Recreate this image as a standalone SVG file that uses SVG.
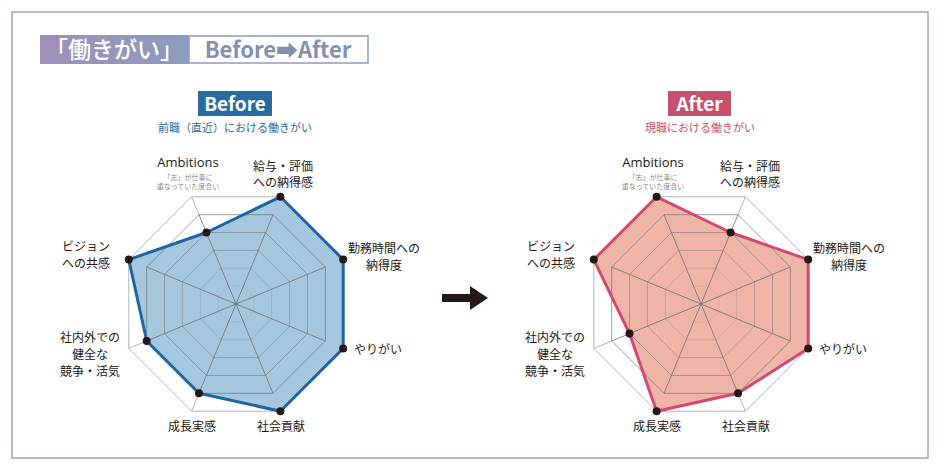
<svg xmlns="http://www.w3.org/2000/svg" xmlns:xlink="http://www.w3.org/1999/xlink" width="940" height="470" viewBox="0 0 940 470">
<defs>
<linearGradient id="tg" x1="0" x2="1"><stop offset="0" stop-color="#9e8fb9"/><stop offset="1" stop-color="#8c9cbe"/></linearGradient>
<polygon id="oct" points="-44.4,-107.2 44.4,-107.2 107.2,-44.4 107.2,44.4 44.4,107.2 -44.4,107.2 -107.2,44.4 -107.2,-44.4"/>
<g id="grid">
<use xlink:href="#oct" class="ring" transform="scale(0.1667)"/>
<use xlink:href="#oct" class="ring" transform="scale(0.3333)"/>
<use xlink:href="#oct" class="ring" transform="scale(0.5)"/>
<use xlink:href="#oct" class="ring" transform="scale(0.6667)"/>
<use xlink:href="#oct" class="ring" transform="scale(0.8333)"/>
<path class="spk" d="M0,0L-37,-89.3M0,0L37,-89.3M0,0L89.3,-37M0,0L89.3,37M0,0L37,89.3M0,0L-37,89.3M0,0L-89.3,37M0,0L-89.3,-37"/>
</g>
<g id="outer">
<use xlink:href="#oct" class="oring"/>
<path class="ospk" d="M-37,-89.3L-44.4,-107.2M37,-89.3L44.4,-107.2M89.3,-37L107.2,-44.4M89.3,37L107.2,44.4M37,89.3L44.4,107.2M-37,89.3L-44.4,107.2M-89.3,37L-107.2,44.4M-89.3,-37L-107.2,-44.4"/>
</g>
</defs>
<style>
text{font-family:"Noto Sans CJK JP","Noto Sans",sans-serif;}
.ring{fill:none;stroke:#6f7070;stroke-width:0.8;vector-effect:non-scaling-stroke;}
.spk{stroke:#6f7070;stroke-width:0.8;fill:none;}
.oring{fill:none;stroke:#b4b4b4;stroke-width:1;}
.ospk{stroke:#b4b4b4;stroke-width:1;}
.lb{font-size:12px;fill:#231815;text-anchor:middle;}
.sm{font-size:7px;fill:#8a8a8a;text-anchor:middle;}
.amb{font-size:13px;fill:#231815;text-anchor:middle;font-family:"Open Sans","Noto Sans",sans-serif;}
.dot{fill:#231815;}
</style>
<rect x="12" y="12" width="916" height="446" fill="#fff" stroke="#9aa3bd" stroke-width="1.5"/>
<g id="title">
<rect x="40" y="35" width="149" height="29" fill="url(#tg)"/>
<text x="114" y="58" font-size="23" fill="#fff" text-anchor="middle" font-weight="500">「働きがい」</text>
<rect x="189" y="36" width="179" height="27" fill="#fff" stroke="#8c9cbe" stroke-width="1.5"/>
<text x="278" y="58" font-size="22" fill="#8090b2" text-anchor="middle" font-weight="600" font-family="Open Sans, sans-serif">Before➡After</text>
</g>
<g id="before-head">
<rect x="198" y="91" width="74" height="25" fill="#2a6aa3"/>
<text x="235" y="111" font-size="19" fill="#fff" text-anchor="middle" font-weight="bold" font-family="Open Sans, sans-serif">Before</text>
<text x="235" y="132" font-size="11" fill="#2a6aa3" text-anchor="middle">前職（直近）における働きがい</text>
</g>
<g id="after-head">
<rect x="668" y="91" width="63" height="25" fill="#c8506f"/>
<text x="699.5" y="111" font-size="19" fill="#fff" text-anchor="middle" font-weight="bold" font-family="Open Sans, sans-serif">After</text>
<text x="700" y="132" font-size="11" fill="#c8506f" text-anchor="middle">現職における働きがい</text>
</g>
<g id="before-chart" transform="translate(236,304)">
<use xlink:href="#outer"/>
<polygon points="-29.6,-71.5 44.4,-107.2 107.2,-44.4 107.2,44.4 44.4,107.2 -37,89.3 -89.3,37 -107.2,-44.4" fill="#a5c8de"/>
<use xlink:href="#grid"/>
<polygon points="-29.6,-71.5 44.4,-107.2 107.2,-44.4 107.2,44.4 44.4,107.2 -37,89.3 -89.3,37 -107.2,-44.4" fill="none" stroke="#1d64a6" stroke-width="3" stroke-linejoin="round"/>
<g class="dot"><circle cx="-29.6" cy="-71.5" r="4"/><circle cx="44.4" cy="-107.2" r="4"/><circle cx="107.2" cy="-44.4" r="4"/><circle cx="107.2" cy="44.4" r="4"/><circle cx="44.4" cy="107.2" r="4"/><circle cx="-37" cy="89.3" r="4"/><circle cx="-89.3" cy="37" r="4"/><circle cx="-107.2" cy="-44.4" r="4"/></g>
</g>
<g id="after-chart" transform="translate(701,304)">
<use xlink:href="#outer"/>
<polygon points="-44.4,-107.2 29.6,-71.5 107.2,-44.4 107.2,44.4 37,89.3 -44.4,107.2 -71.5,29.6 -107.2,-44.4" fill="#efb6a8"/>
<use xlink:href="#grid"/>
<polygon points="-44.4,-107.2 29.6,-71.5 107.2,-44.4 107.2,44.4 37,89.3 -44.4,107.2 -71.5,29.6 -107.2,-44.4" fill="none" stroke="#d6476f" stroke-width="3" stroke-linejoin="round"/>
<g class="dot"><circle cx="-44.4" cy="-107.2" r="4"/><circle cx="29.6" cy="-71.5" r="4"/><circle cx="107.2" cy="-44.4" r="4"/><circle cx="107.2" cy="44.4" r="4"/><circle cx="37" cy="89.3" r="4"/><circle cx="-44.4" cy="107.2" r="4"/><circle cx="-71.5" cy="29.6" r="4"/><circle cx="-107.2" cy="-44.4" r="4"/></g>
</g>
<g id="before-labels">
<text class="amb" x="188" y="167">Ambitions</text>
<text class="sm" x="188" y="180">「志」が仕事に</text>
<text class="sm" x="188" y="189">重なっていた度合い</text>
<text class="lb" x="283" y="171">給与・評価</text>
<text class="lb" x="283" y="187">への納得感</text>
<text class="lb" x="384" y="253">勤務時間への</text>
<text class="lb" x="384" y="270">納得度</text>
<text class="lb" x="378" y="354">やりがい</text>
<text class="lb" x="281" y="431">社会貢献</text>
<text class="lb" x="192" y="431">成長実感</text>
<text class="lb" x="90" y="342">社内外での</text>
<text class="lb" x="90" y="359">健全な</text>
<text class="lb" x="90" y="376">競争・活気</text>
<text class="lb" x="86" y="251">ビジョン</text>
<text class="lb" x="86" y="268">への共感</text>
</g>
<g id="after-labels">
<text class="amb" x="653" y="167">Ambitions</text>
<text class="sm" x="653" y="180">「志」が仕事に</text>
<text class="sm" x="653" y="189">重なっていた度合い</text>
<text class="lb" x="750" y="171">給与・評価</text>
<text class="lb" x="750" y="187">への納得感</text>
<text class="lb" x="849" y="253">勤務時間への</text>
<text class="lb" x="849" y="270">納得度</text>
<text class="lb" x="843" y="354">やりがい</text>
<text class="lb" x="746" y="431">社会貢献</text>
<text class="lb" x="657" y="431">成長実感</text>
<text class="lb" x="555" y="342">社内外での</text>
<text class="lb" x="555" y="359">健全な</text>
<text class="lb" x="555" y="376">競争・活気</text>
<text class="lb" x="551" y="251">ビジョン</text>
<text class="lb" x="551" y="268">への共感</text>
</g>
<g id="connectors">
<polygon points="442,294 470,294 470,286 488,298 470,310 470,302 442,302" fill="#231815"/>
</g>
</svg>
